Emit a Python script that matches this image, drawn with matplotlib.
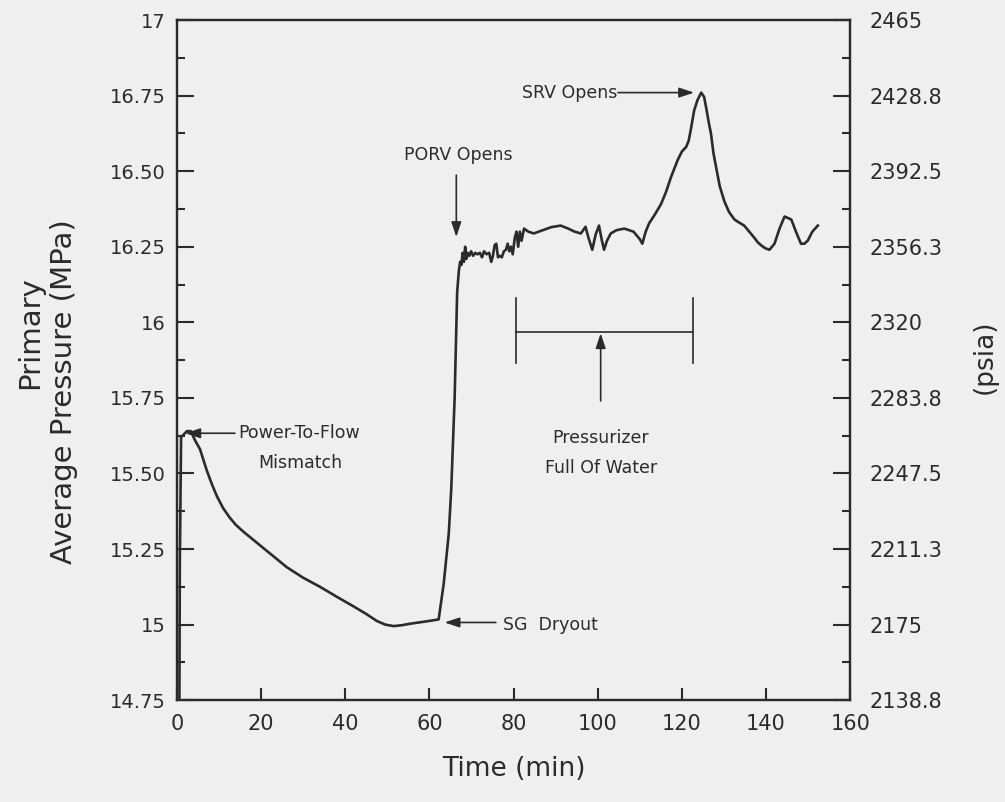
import matplotlib
matplotlib.use('Agg')
from matplotlib import pyplot as plt

# Primary average pressure vs time
time_min = [0.6, 0.7, 1.0, 2.4, 3.3, 4.3, 5.5, 7.1, 8.3, 9.5,
            11.0, 12.5, 14.0, 16.0, 18.2, 20.0, 23.0, 26.1, 30.0, 34.0,
            38.0, 42.0, 45.0, 47.5, 49.5, 51.5, 53.5, 55.5, 59.0, 62.2,
            63.4, 64.6, 65.2, 66.0, 66.6, 67.0, 67.3, 67.6, 67.9, 68.2,
            68.5, 68.8, 69.1, 69.5, 69.9, 70.4, 70.9, 71.4, 72.0, 72.5,
            73.0, 73.6, 74.2, 74.7, 75.1, 75.5, 75.9, 76.3, 76.7, 77.2,
            77.7, 78.2, 78.6, 79.0, 79.4, 79.8, 80.3, 80.7, 81.1, 81.5,
            81.9, 82.5, 83.5, 84.8, 87.0, 89.0, 91.2, 93.0, 94.5, 96.0,
            97.1, 97.8, 98.7, 99.5, 100.3, 101.0, 101.5, 102.2, 103.1, 104.5,
            106.3, 108.5, 110.0, 110.6, 111.4, 112.2, 113.5, 115.0, 116.2, 117.4,
            119.0, 120.0, 121.0, 121.6, 122.1, 122.9, 123.7, 124.6, 125.3, 125.9,
            126.4, 126.9, 127.5, 128.1, 129.0, 130.1, 131.2, 132.5, 133.6, 134.8,
            136.0, 137.2, 138.0, 138.8, 139.8, 140.8, 142.0, 143.2, 144.4, 145.2,
            146.0, 147.1, 148.3, 149.1, 149.9, 151.0, 152.3]
pressure_mpa = [14.75, 15.20, 15.62, 15.64, 15.64, 15.61, 15.58, 15.51, 15.465, 15.425,
                15.385, 15.355, 15.33, 15.305, 15.28, 15.26, 15.225, 15.19, 15.155, 15.125,
                15.092, 15.06, 15.035, 15.012, 15.0, 14.995, 14.998, 15.003, 15.01, 15.017,
                15.135, 15.30, 15.45, 15.75, 16.10, 16.17, 16.20, 16.19, 16.23, 16.20,
                16.25, 16.21, 16.23, 16.22, 16.235, 16.22, 16.23, 16.225, 16.23, 16.215,
                16.235, 16.225, 16.23, 16.20, 16.22, 16.255, 16.26, 16.215, 16.22, 16.215,
                16.235, 16.24, 16.26, 16.235, 16.25, 16.225, 16.28, 16.30, 16.25, 16.30,
                16.27, 16.31, 16.30, 16.294, 16.305, 16.315, 16.32, 16.31, 16.30, 16.294,
                16.316, 16.28, 16.24, 16.29, 16.32, 16.27, 16.24, 16.27, 16.294, 16.305,
                16.31, 16.30, 16.275, 16.26, 16.30, 16.327, 16.355, 16.39, 16.43, 16.48,
                16.537, 16.565, 16.58, 16.60, 16.636, 16.70, 16.735, 16.76, 16.745, 16.70,
                16.66, 16.625, 16.56, 16.515, 16.45, 16.40, 16.365, 16.34, 16.33, 16.32,
                16.30, 16.28, 16.265, 16.255, 16.245, 16.24, 16.26, 16.31, 16.35, 16.345,
                16.34, 16.30, 16.26, 16.26, 16.27, 16.30, 16.32]

x_ticks = [0, 20, 40, 60, 80, 100, 120, 140, 160]
mpa_ticks = [14.75, 15.0, 15.25, 15.5, 15.75, 16.0, 16.25, 16.5, 16.75, 17.0]
mpa_labels = ['14.75', '15', '15.25', '15.50', '15.75', '16', '16.25', '16.50', '16.75', '17']
psia_labels = ['2138.8', '2175', '2211.3', '2247.5', '2283.8', '2320',
               '2356.3', '2392.5', '2428.8', '2465']

ink = '#2b2b2b'
paper = '#efefef'
plt.rcParams['font.family'] = ['DejaVu Sans']

fig = plt.figure(figsize=(10.05, 8.02), dpi=100, facecolor=paper)
ax = fig.add_axes([0.176, 0.127, 0.670, 0.848], facecolor=paper)

ax.plot(time_min, pressure_mpa, color=ink, lw=1.9, solid_joinstyle='round')

ax.set_xlim(0, 160)
ax.set_ylim(14.75, 17.0)
ax.set_xticks(x_ticks)
ax.set_xticklabels([str(v) for v in x_ticks], fontsize=15, color=ink)
ax.set_yticks(mpa_ticks)
ax.set_yticklabels(mpa_labels, fontsize=14, color=ink)
ax.set_yticks([v + 0.125 for v in mpa_ticks[:-1]], minor=True)
ax.tick_params(axis='y', which='major', direction='in', length=12, width=1.5, pad=8, colors=ink)
ax.tick_params(axis='y', which='minor', direction='in', length=6, width=1.5, colors=ink)
ax.tick_params(axis='x', which='major', direction='in', length=9, width=1.5, pad=10, colors=ink)
for s in ax.spines.values():
    s.set_linewidth(1.6)
    s.set_color(ink)

# psia scale on the right
ax2 = ax.twinx()
ax2.set_ylim(14.75, 17.0)
ax2.set_yticks(mpa_ticks)
ax2.set_yticklabels(psia_labels, fontsize=15, color=ink)
ax2.set_yticks([v + 0.125 for v in mpa_ticks[:-1]], minor=True)
ax2.tick_params(axis='y', which='major', direction='in', length=12, width=1.5, pad=14, colors=ink)
ax2.tick_params(axis='y', which='minor', direction='in', length=6, width=1.5, colors=ink)
for s in ax2.spines.values():
    s.set_linewidth(1.6)
    s.set_color(ink)

ax.set_xlabel('Time (min)', fontsize=19, color=ink, labelpad=16)
fig.text(0.030, 0.585, 'Primary', rotation=90, fontsize=21, color=ink, ha='center', va='center')
fig.text(0.064, 0.512, 'Average Pressure (MPa)', rotation=90, fontsize=21, color=ink,
         ha='center', va='center')
fig.text(0.980, 0.555, '(psia)', rotation=90, fontsize=19, color=ink, ha='center', va='center')

arrow = dict(arrowstyle='-|>,head_length=0.9,head_width=0.3', color=ink, lw=1.2,
             shrinkA=0, shrinkB=0)
txt = dict(fontsize=12.5, color=ink)

# event annotations
ax.text(82.1, 16.76, 'SRV Opens', ha='left', va='center', **txt)
ax.annotate('', xy=(122.9, 16.76), xytext=(104.8, 16.76), arrowprops=arrow)

ax.text(66.9, 16.553, 'PORV Opens', ha='center', va='center', **txt)
ax.annotate('', xy=(66.4, 16.282), xytext=(66.4, 16.487), arrowprops=arrow)

ax.text(14.5, 15.633, 'Power-To-Flow', ha='left', va='center', **txt)
ax.text(29.3, 15.533, 'Mismatch', ha='center', va='center', **txt)
ax.annotate('', xy=(2.0, 15.633), xytext=(13.8, 15.633), arrowprops=arrow)

ax.text(77.5, 15.0, 'SG  Dryout', ha='left', va='center', **txt)
ax.annotate('', xy=(63.6, 15.007), xytext=(75.8, 15.007), arrowprops=arrow)

# pressurizer solid period
ax.plot([80.5, 122.6], [15.967, 15.967], color=ink, lw=1.2)
ax.plot([80.5, 80.5], [15.865, 16.08], color=ink, lw=1.2)
ax.plot([122.6, 122.6], [15.865, 16.08], color=ink, lw=1.2)
ax.annotate('', xy=(100.7, 15.964), xytext=(100.7, 15.74), arrowprops=arrow)
ax.text(100.7, 15.617, 'Pressurizer', ha='center', va='center', **txt)
ax.text(100.7, 15.518, 'Full Of Water', ha='center', va='center', **txt)

fig.savefig('out.png', dpi=100, facecolor=paper)
